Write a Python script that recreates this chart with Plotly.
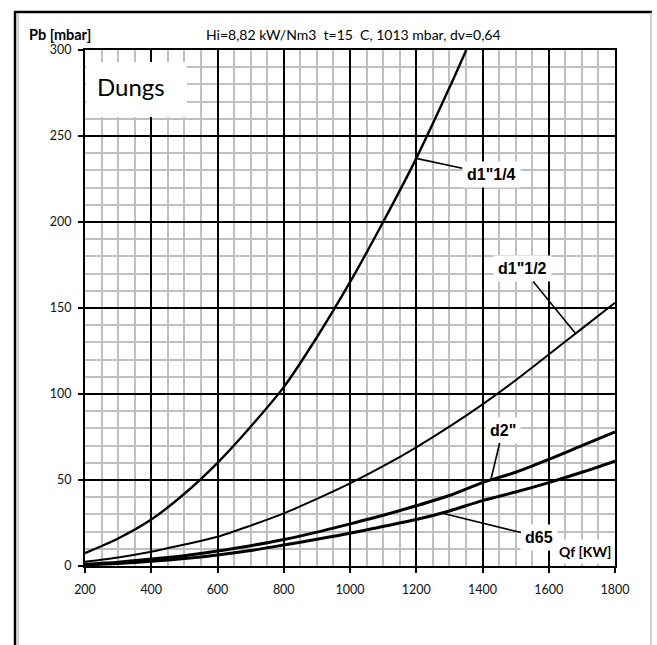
import numpy as np
import plotly.graph_objects as go

# Flow rate Qf [kW] and pressure drop Pb [mbar] for each valve size
q_d114 = [200, 300, 400, 500, 600, 700, 800, 900, 1000, 1100, 1200, 1300, 1351]
pb_d114 = [7.5, 16, 27, 42, 60, 81, 104, 133, 165, 200, 237, 278, 300]

q_all = [200, 300, 400, 500, 600, 700, 800, 900, 1000, 1100, 1200, 1300, 1400, 1500, 1600, 1700, 1800]
pb_d112 = [2.5, 5, 8.3, 12.5, 17, 23.5, 30.6, 39, 48, 58, 69, 81, 94, 108, 123, 138, 153]
pb_d2 = [1, 2.2, 4, 6, 8.7, 11.8, 15.4, 19.7, 24.5, 29.5, 35, 41, 48.5, 54.5, 62, 70, 78]
pb_d65 = [0.6, 1.5, 2.7, 4.3, 6.4, 9, 12.2, 15.5, 19, 23, 27, 32, 38, 43, 48.5, 54.5, 61]

curve_names = ['d1"1/4', 'd1"1/2', 'd2"', "d65"]
x_ticks = [200, 400, 600, 800, 1000, 1200, 1400, 1600, 1800]
y_ticks = [0, 50, 100, 150, 200, 250, 300]

W, H = 657, 645
ML, MR, MT, MB = 85, 42, 50, 79
PW, PH = W - ML - MR, H - MT - MB


def px(xp):
    return (xp - ML) / PW


def py(yp):
    return (H - MB - yp) / PH


fig = go.Figure()
series = [
    (q_d114, pb_d114, 2.4),
    (q_all, pb_d112, 2.0),
    (q_all, pb_d2, 3.0),
    (q_all, pb_d65, 3.0),
]
for name, (qx, py_vals, lw) in zip(curve_names, series):
    fig.add_trace(go.Scatter(x=qx, y=py_vals, mode="lines", name=name,
                             line=dict(color="black", width=lw, shape="spline", smoothing=0.8),
                             showlegend=False, hoverinfo="x+y"))

lab_font = dict(family="Liberation Sans, Arial, sans-serif", size=16, color="black")

# curve labels with leader lines: (series, flow at anchor, text offset in px)
label_specs = [
    (0, 1200, 75, 16),
    (1, 1681, -53, -65),
    (2, 1425, 12, -50),
    (3, 1276, 98, 24),
]
for idx, qa, axp, ayp in label_specs:
    qx, pv, _ = series[idx]
    ya = float(np.interp(qa, qx, pv))
    fig.add_annotation(x=qa, y=ya, xref="x", yref="y", text="<b>%s</b>" % curve_names[idx],
                       showarrow=True, arrowhead=0, arrowwidth=1.6, arrowcolor="black",
                       ax=axp, ay=ayp, standoff=0, bgcolor="white", borderpad=4,
                       font=lab_font)

# axis titles
fig.add_annotation(x=px(585), y=py(551), xref="paper", yref="paper", text="<b>Qf [KW]</b>",
                   showarrow=False, xanchor="center", yanchor="middle",
                   bgcolor="white", borderpad=3,
                   font=dict(family="Lato, sans-serif", size=14, color="black"))
fig.add_annotation(x=px(27), y=py(35), xref="paper", yref="paper", text="<b>Pb [mbar]</b>",
                   showarrow=False, xanchor="left", yanchor="middle",
                   font=dict(family="Lato, sans-serif", size=14.5, color="black"))
fig.add_annotation(x=px(204), y=py(35), xref="paper", yref="paper",
                   text="Hi=8,82 kW/Nm3\u00a0 t=15\u00a0 C, 1013 mbar, dv=0,64",
                   showarrow=False, xanchor="left", yanchor="middle",
                   font=dict(family="Lato, sans-serif", size=14, color="black"))

# brand box
fig.add_shape(type="rect", xref="paper", yref="paper", x0=px(86), x1=px(187),
              y0=py(117), y1=py(62), fillcolor="white", line=dict(width=0), layer="above")
fig.add_annotation(x=px(95), y=py(86), xref="paper", yref="paper", text="Dungs",
                   showarrow=False, xanchor="left", yanchor="middle",
                   font=dict(family="Lato, sans-serif", size=24, color="black"))

# outer frame
fig.add_shape(type="line", xref="paper", yref="paper", x0=px(15), x1=px(15),
              y0=py(12), y1=py(660), line=dict(color="black", width=2.5))
fig.add_shape(type="line", xref="paper", yref="paper", x0=px(18), x1=px(18),
              y0=py(14), y1=py(660), line=dict(color="#a0a0a0", width=1))
fig.add_shape(type="line", xref="paper", yref="paper", x0=px(14), x1=px(652),
              y0=py(12), y1=py(12), line=dict(color="black", width=2.5))
fig.add_shape(type="line", xref="paper", yref="paper", x0=px(651), x1=px(651),
              y0=py(12), y1=py(660), line=dict(color="#a0a0a0", width=1))

tick_font = dict(family="Lato, sans-serif", size=12.5, color="#111111")
common = dict(showgrid=True, gridcolor="black", gridwidth=2,
              showline=True, linecolor="black", linewidth=2, mirror=True,
              ticks="outside", ticklen=5, tickwidth=2, tickcolor="black",
              zeroline=False, tickfont=tick_font)
fig.update_xaxes(range=[200, 1800], tickvals=x_ticks, ticklabelstandoff=6,
                 minor=dict(dtick=50, tick0=200, showgrid=True, gridcolor="#c0c0c0", gridwidth=2, ticks=""),
                 **common)
fig.update_yaxes(range=[0, 300], tickvals=y_ticks, ticklabelstandoff=4,
                 minor=dict(dtick=10, tick0=0, showgrid=True, gridcolor="#c0c0c0", gridwidth=2, ticks=""),
                 **common)

fig.update_layout(width=W, height=H, margin=dict(l=ML, r=MR, t=MT, b=MB),
                  paper_bgcolor="white", plot_bgcolor="white")
fig.write_html("out.html")
